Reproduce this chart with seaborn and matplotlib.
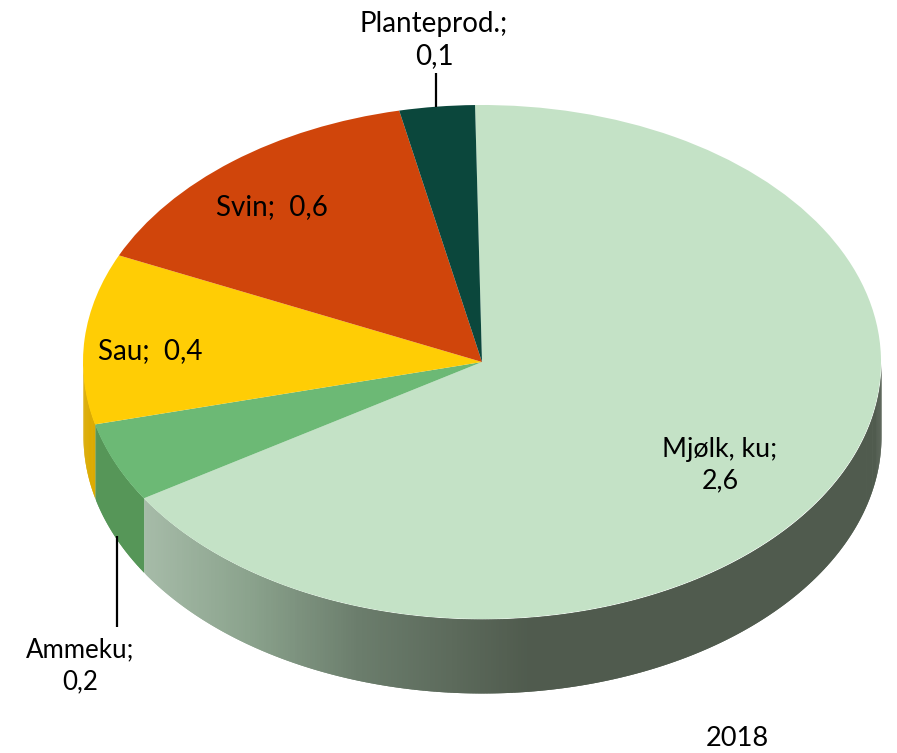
import numpy as np
import pandas as pd
import matplotlib
matplotlib.use("Agg")
import matplotlib.pyplot as plt
from matplotlib.colors import LinearSegmentedColormap
import seaborn as sns

categories = ["Mjølk, ku", "Ammeku", "Sau", "Svin", "Planteprod."]
values = [2.59, 0.195, 0.418, 0.58, 0.119]
value_labels = ["2,6", "0,2", "0,4", "0,6", "0,1"]
top_colors = ["#c4e2c6", "#6cb975", "#ffcd05", "#d0450b", "#0b473c"]
year_label = "2018"

W, H = 897, 753
CX, CY, RX, RY, DEPTH = 482, 362, 399, 257, 74
START = 91.0

sns.set_theme(style="white")
plt.rcParams["font.family"] = ["Lato", "DejaVu Sans"]
df = pd.DataFrame({"cat": categories, "val": values, "lab": value_labels, "col": top_colors})

fig = plt.figure(figsize=(W / 100, H / 100), dpi=100, facecolor="white")
ax = fig.add_axes([0, 0, 1, 1])

# side wall, drawn strip by strip in ellipse units
d = DEPTH / RY
fracs = df["val"] / df["val"].sum() * 360
ends = (START - fracs.cumsum()) % 360
milk_ramp = LinearSegmentedColormap.from_list(
    "milk", [(0, "#a6bba8"), (0.27, "#8ba38d"), (0.56, "#6b7d6c"), (1, "#505b4e")])

def wall(a0, a1, color_of_x, step=0.4):
    a = np.arange(a0, a1, step)
    for p in a:
        t = np.radians(np.linspace(p, min(p + step * 2, a1), 4))
        xs, ys = np.cos(t), np.sin(t)
        ax.fill_between(xs, ys - d, ys, color=color_of_x(xs.mean() * RX + CX),
                        lw=0, zorder=1)

# visible wall: lower half of the ellipse, split where the slices end
wall(180, ends[1], lambda x: "#dcab00")
wall(ends[1], ends[0], lambda x: "#569658")
wall(ends[0], 360, lambda x: milk_ramp(np.clip((x - 145) / (530 - 145), 0, 1)))

ax.pie(df["val"], colors=df["col"], startangle=START, counterclock=False,
       radius=1, center=(0, 0), wedgeprops={"linewidth": 0})
ax.set_aspect("auto")
ax.set_xlim(-CX / RX, (W - CX) / RX)
ax.set_ylim((CY - H) / RY, CY / RY)
ax.set_xticks([]); ax.set_yticks([])
sns.despine(ax=ax, left=True, bottom=True)
ax.set_frame_on(False)

def px(x, y):
    return (x - CX) / RX, (CY - y) / RY

# leader lines
for x, y0, y1 in [(117, 536, 627), (436, 73, 107)]:
    a, b0 = px(x, y0); _, b1 = px(x, y1)
    ax.plot([a, a], [b0, b1], color="black", lw=1.6, zorder=5, solid_capstyle="butt")

texts = [
    (0, 720, 465, "{};\n{}", 19.3),
    (1, 80, 666, "{};\n{}", 18.6),
    (2, 150, 351, "{};  {}", 20),
    (3, 272, 207, "{};  {}", 20),
    (4, 434, 40, "{};\n{}", 20),
]
for i, x, y, fmt, fs in texts:
    fig.text(x / W, 1 - y / H, fmt.format(df["cat"][i], df["lab"][i]), ha="center", va="center",
             fontsize=fs, color="black", linespacing=1.33, zorder=6)
fig.text(737.5 / W, 1 - 739 / H, year_label, ha="center", va="center", fontsize=19.6, color="black")

fig.savefig("out.png", dpi=100, facecolor="white")
